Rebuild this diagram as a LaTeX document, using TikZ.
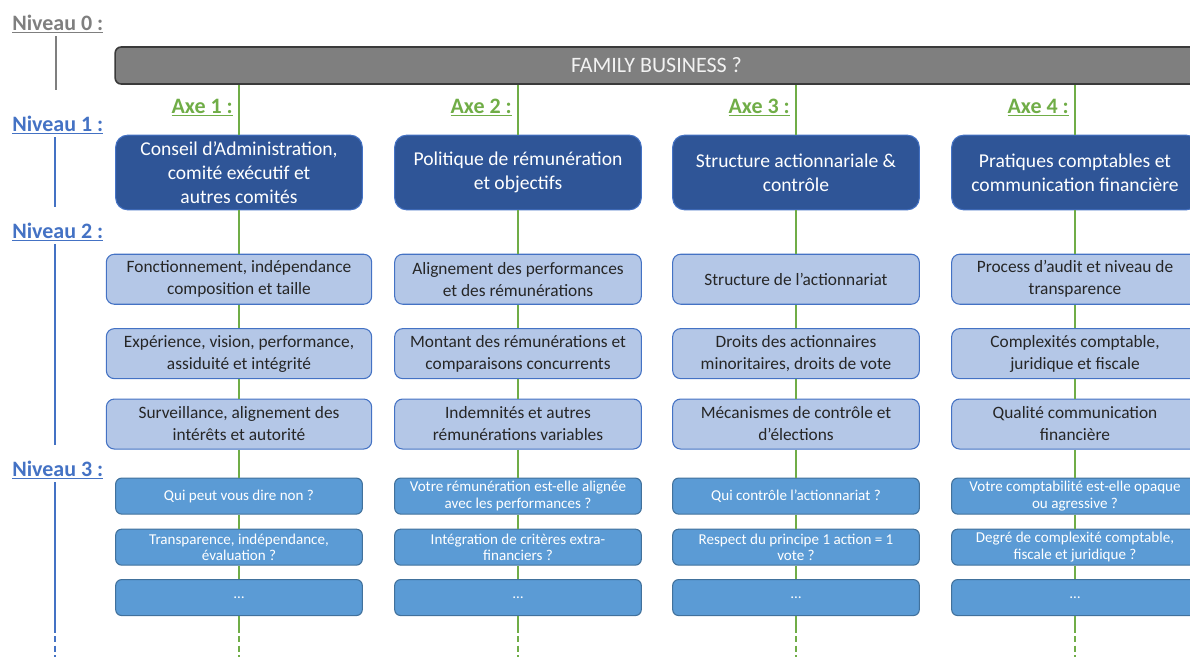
\documentclass[tikz,border=0pt]{standalone}
\usepackage{fontspec}
\setmainfont{Carlito}
\usetikzlibrary{positioning}

\definecolor{nivgray}{HTML}{7F7F7F}
\definecolor{nivblue}{HTML}{4472C4}
\definecolor{axegreen}{HTML}{70AD47}
\definecolor{bargray}{HTML}{7F7F7F}
\definecolor{barborder}{HTML}{3A3A3A}
\definecolor{darkblue}{HTML}{2F5597}
\definecolor{lightblue}{HTML}{B4C7E7}
\definecolor{qblue}{HTML}{5B9BD5}
\definecolor{qborder}{HTML}{41719C}

\tikzset{
  niv/.style={inner sep=0pt, anchor=west, text=nivblue, font=\fontsize{16.5}{20}\selectfont\bfseries},
  axelab/.style={inner sep=0pt, anchor=east, text=axegreen, font=\fontsize{16.5}{20}\selectfont\bfseries},
  famille/.style={draw=barborder, fill=bargray, line width=1.2pt, rounded corners=4.5pt,
    minimum width=812pt, minimum height=27.75pt, inner sep=0pt, text=white!95!black,
    font=\fontsize{16.5}{19}\selectfont},
  axebox/.style={draw=nivblue, fill=darkblue, line width=0.8pt, rounded corners=9pt,
    minimum width=185pt, minimum height=56pt, inner sep=0pt, align=center, text=white,
    font=\fontsize{14.7}{18}\selectfont},
  critbox/.style={draw=nivblue, fill=lightblue, line width=0.8pt, rounded corners=6pt,
    minimum width=185pt, minimum height=37.5pt, inner sep=0pt, align=center, text=black!85,
    font=\fontsize{13}{16.5}\selectfont},
  questbox/.style={draw=qborder, fill=qblue, line width=0.8pt, rounded corners=4.5pt,
    minimum width=185pt, minimum height=27pt, inner sep=0pt, align=center, text=white,
    font=\fontsize{11.3}{12.5}\selectfont},
  axeline/.style={draw=axegreen, line width=1.2pt},
  nivline/.style={draw=nivblue, line width=1.2pt},
}

\begin{document}
\begin{tikzpicture}[x=0.75pt,y=-0.75pt]
\useasboundingbox (0,0) rectangle (1190,657);

% niveaux
\node[niv, text=nivgray] (N0) at (12,24) {\underline{Niveau 0 :}};
\node[niv] (N1) at (12,125) {\underline{Niveau 1 :}};
\node[niv] (N2) at (12,232) {\underline{Niveau 2 :}};
\node[niv] (N3) at (12,470) {\underline{Niveau 3 :}};
\coordinate (n0end) at (56,90);
\coordinate (n1end) at (55,207);
\coordinate (n2end) at (55,445);
\coordinate (n3end) at (55,627);
\coordinate (n3dash) at (55,657);
\draw[nivline, draw=nivgray, shorten <=2pt] (N0.south -| n0end) -- (n0end);
\draw[nivline, shorten <=2pt] (N1.south -| n1end) -- (n1end);
\draw[nivline, shorten <=2pt] (N2.south -| n2end) -- (n2end);
\draw[nivline, shorten <=2pt] (N3.south -| n3end) -- (n3end);
\draw[nivline, dash pattern=on 4.5pt off 2.5pt] (n3end) -- (n3dash);

% niveau 0
\node[famille] (FB) at (656.5,65.5) {FAMILY BUSINESS ?};

% axe 1
\node[axelab] (A1) at (233,107.5) {\underline{Axe 1 :}};
\node[axebox] (L1a) at (239,172.5) {Conseil d’Administration,\\comité exécutif et\\autres comités};
\node[critbox, minimum width=199pt, below=32.5pt of L1a] (C1a) {Fonctionnement, indépendance\\composition et taille};
\node[critbox, minimum width=199pt, below=17.5pt of C1a] (C1b) {Expérience, vision, performance,\\assiduité et intégrité};
\node[critbox, minimum width=199pt, below=14.5pt of C1b] (C1c) {Surveillance, alignement des\\intérêts et autorité};
\node[questbox, below=21pt of C1c] (Q1a) {Qui peut vous dire non ?};
\node[questbox, below=10.5pt of Q1a] (Q1b) {Transparence, indépendance,\\évaluation ?};
\node[questbox, below=10pt of Q1b] (Q1c) {…};

% axe 2
\node[axelab] (A2) at (512,107.5) {\underline{Axe 2 :}};
\node[axebox] (L1b) at (518,172.5) {Politique de rémunération\\et objectifs};
\node[critbox, below=32.5pt of L1b] (C2a) {Alignement des performances\\et des rémunérations};
\node[critbox, below=17.5pt of C2a] (C2b) {Montant des rémunérations et\\comparaisons concurrents};
\node[critbox, below=14.5pt of C2b] (C2c) {Indemnités et autres\\rémunérations variables};
\node[questbox, below=21pt of C2c] (Q2a) {Votre rémunération est-elle alignée\\avec les performances ?};
\node[questbox, below=10.5pt of Q2a] (Q2b) {Intégration de critères extra-\\financiers ?};
\node[questbox, below=10pt of Q2b] (Q2c) {…};

% axe 3
\node[axelab] (A3) at (790,107.5) {\underline{Axe 3 :}};
\node[axebox] (L1c) at (796,172.5) {Structure actionnariale \&\\contrôle};
\node[critbox, below=32.5pt of L1c] (C3a) {Structure de l’actionnariat};
\node[critbox, below=17.5pt of C3a] (C3b) {Droits des actionnaires\\minoritaires, droits de vote};
\node[critbox, below=14.5pt of C3b] (C3c) {Mécanismes de contrôle et\\d’élections};
\node[questbox, below=21pt of C3c] (Q3a) {Qui contrôle l’actionnariat ?};
\node[questbox, below=10.5pt of Q3a] (Q3b) {Respect du principe 1 action = 1\\vote ?};
\node[questbox, below=10pt of Q3b] (Q3c) {…};

% axe 4
\node[axelab] (A4) at (1069,107.5) {\underline{Axe 4 :}};
\node[axebox] (L1d) at (1075,172.5) {Pratiques comptables et\\communication financière};
\node[critbox, below=32.5pt of L1d] (C4a) {Process d’audit et niveau de\\transparence};
\node[critbox, below=17.5pt of C4a] (C4b) {Complexités comptable,\\juridique et fiscale};
\node[critbox, below=14.5pt of C4b] (C4c) {Qualité communication\\financière};
\node[questbox, below=21pt of C4c] (Q4a) {Votre comptabilité est-elle opaque\\ou agressive ?};
\node[questbox, below=10.5pt of Q4a] (Q4b) {Degré de complexité comptable,\\fiscale et juridique ?};
\node[questbox, below=10pt of Q4b] (Q4c) {…};

% liens verts
\coordinate (e1) at (239,627); \coordinate (f1) at (239,657);
\coordinate (e2) at (518,627); \coordinate (f2) at (518,657);
\coordinate (e3) at (796,627); \coordinate (f3) at (796,657);
\coordinate (e4) at (1075,627); \coordinate (f4) at (1075,657);
\draw[axeline] (FB.south -| L1a) -- (L1a) -- (C1a) -- (C1b) -- (C1c) -- (Q1a) -- (Q1b) -- (Q1c) -- (e1);
\draw[axeline] (FB.south -| L1b) -- (L1b) -- (C2a) -- (C2b) -- (C2c) -- (Q2a) -- (Q2b) -- (Q2c) -- (e2);
\draw[axeline] (FB.south -| L1c) -- (L1c) -- (C3a) -- (C3b) -- (C3c) -- (Q3a) -- (Q3b) -- (Q3c) -- (e3);
\draw[axeline] (FB.south -| L1d) -- (L1d) -- (C4a) -- (C4b) -- (C4c) -- (Q4a) -- (Q4b) -- (Q4c) -- (e4);
\draw[axeline, dash pattern=on 4.5pt off 2.5pt] (e1) -- (f1);
\draw[axeline, dash pattern=on 4.5pt off 2.5pt] (e2) -- (f2);
\draw[axeline, dash pattern=on 4.5pt off 2.5pt] (e3) -- (f3);
\draw[axeline, dash pattern=on 4.5pt off 2.5pt] (e4) -- (f4);
\end{tikzpicture}
\end{document}
